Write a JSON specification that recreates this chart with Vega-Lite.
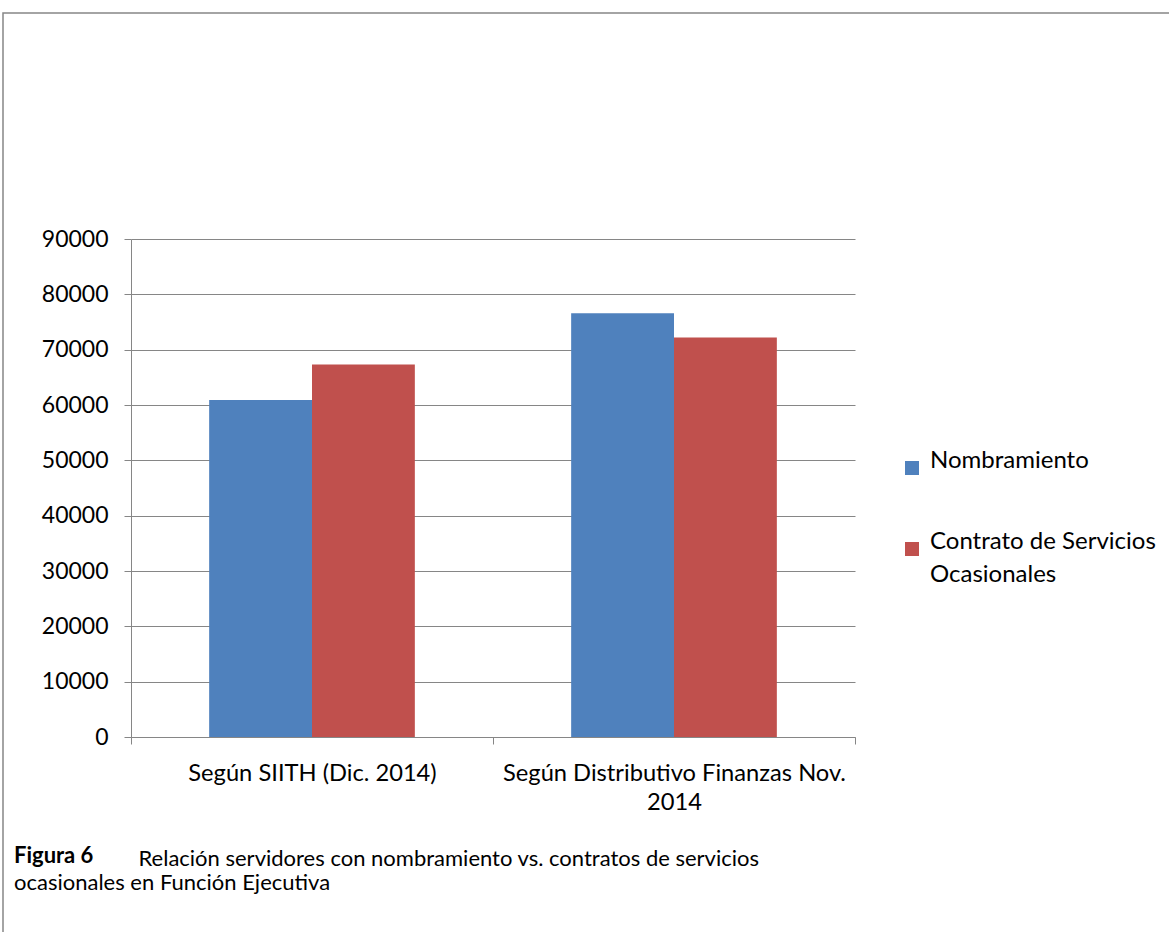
{
  "$schema": "https://vega.github.io/schema/vega-lite/v6.json",
  "width": 1170,
  "height": 925,
  "autosize": {"type": "none"},
  "padding": {"left": 3, "top": 13, "right": 0, "bottom": 0},
  "background": "white",
  "title": {
    "text": "Figura 6",
    "subtitle": "ocasionales en Función Ejecutiva",
    "orient": "bottom",
    "anchor": "start",
    "frame": "group",
    "offset": 0,
    "dx": 11,
    "dy": -92,
    "font": "Lato",
    "fontSize": 22,
    "fontWeight": "bold",
    "color": "black",
    "subtitleFont": "Lato",
    "subtitleFontSize": 22,
    "subtitleColor": "black",
    "subtitlePadding": 5
  },
  "data": {
    "values": [
      {"fuente": "Según SIITH (Dic. 2014)", "tipo": "Nombramiento", "valor": 60900},
      {"fuente": "Según SIITH (Dic. 2014)", "tipo": "Contrato de Servicios Ocasionales", "valor": 67300},
      {"fuente": "Según Distributivo Finanzas Nov. 2014", "tipo": "Nombramiento", "valor": 76600},
      {"fuente": "Según Distributivo Finanzas Nov. 2014", "tipo": "Contrato de Servicios Ocasionales", "valor": 72200}
    ]
  },
  "mark": {"type": "bar", "strokeWidth": 0},
  "encoding": {
    "x": {
      "field": "fuente",
      "type": "nominal",
      "sort": null,
      "scale": {"range": [128, 852], "paddingInner": 0, "paddingOuter": 0},
      "axis": {
        "orient": "bottom",
        "offset": -201,
        "tickBand": "extent",
        "domainColor": "#868686",
        "domainWidth": 1,
        "tickColor": "#868686",
        "tickSize": 7,
        "tickWidth": 1,
        "labelAngle": 0,
        "labelFont": "Lato",
        "labelFontSize": 23.7,
        "labelColor": "black",
        "labelPadding": 17,
        "labelLineHeight": 29,
        "labelBaseline": "top",
        "labelLimit": 0,
        "labelExpr": "datum.value == 'Según Distributivo Finanzas Nov. 2014' ? ['Según Distributivo Finanzas Nov.', '2014'] : datum.label",
        "title": "Relación servidores con nombramiento vs. contratos de servicios",
        "titleX": 135,
        "titleY": 121,
        "titleAlign": "left",
        "titleAnchor": "start",
        "titleBaseline": "middle",
        "titleFont": "Lato",
        "titleFontSize": 22,
        "titleFontWeight": "normal",
        "titleColor": "black"
      }
    },
    "xOffset": {
      "field": "tipo",
      "type": "nominal",
      "sort": ["Nombramiento", "Contrato de Servicios Ocasionales"],
      "scale": {"paddingInner": 0, "paddingOuter": 0.76}
    },
    "y": {
      "field": "valor",
      "type": "quantitative",
      "scale": {"domain": [0, 90000], "range": [724, 226], "nice": false, "zero": true},
      "axis": {
        "orient": "left",
        "offset": -128,
        "values": [0, 10000, 20000, 30000, 40000, 50000, 60000, 70000, 80000, 90000],
        "format": "d",
        "grid": true,
        "gridColor": "#868686",
        "gridWidth": 1,
        "gridOpacity": 1,
        "domainColor": "#868686",
        "domainWidth": 1,
        "tickColor": "#868686",
        "tickSize": 7,
        "tickWidth": 1,
        "labelFont": "Lato",
        "labelFontSize": 23,
        "labelColor": "black",
        "labelPadding": 16,
        "title": null
      }
    },
    "color": {
      "field": "tipo",
      "type": "nominal",
      "sort": ["Nombramiento", "Contrato de Servicios Ocasionales"],
      "scale": {"domain": ["Nombramiento", "Contrato de Servicios Ocasionales"], "range": ["#4F81BD", "#C0504D"]},
      "legend": {
        "orient": "none",
        "legendX": 897,
        "legendY": 443,
        "title": null,
        "padding": 0,
        "symbolType": "square",
        "symbolSize": 196,
        "symbolStrokeWidth": 0,
        "symbolOpacity": 1,
        "labelFont": "Lato",
        "labelFontSize": 24,
        "labelColor": "black",
        "labelOffset": 6,
        "labelBaseline": "alphabetic",
        "labelLimit": 0,
        "rowPadding": 55,
        "labelExpr": "datum.value == 'Contrato de Servicios Ocasionales' ? ['Contrato de Servicios', 'Ocasionales'] : datum.label"
      }
    }
  },
  "config": {
    "font": "Lato",
    "view": {"stroke": "#868686", "strokeWidth": 1.5},
    "style": {"guide-label": {"lineHeight": 33}}
  }
}
